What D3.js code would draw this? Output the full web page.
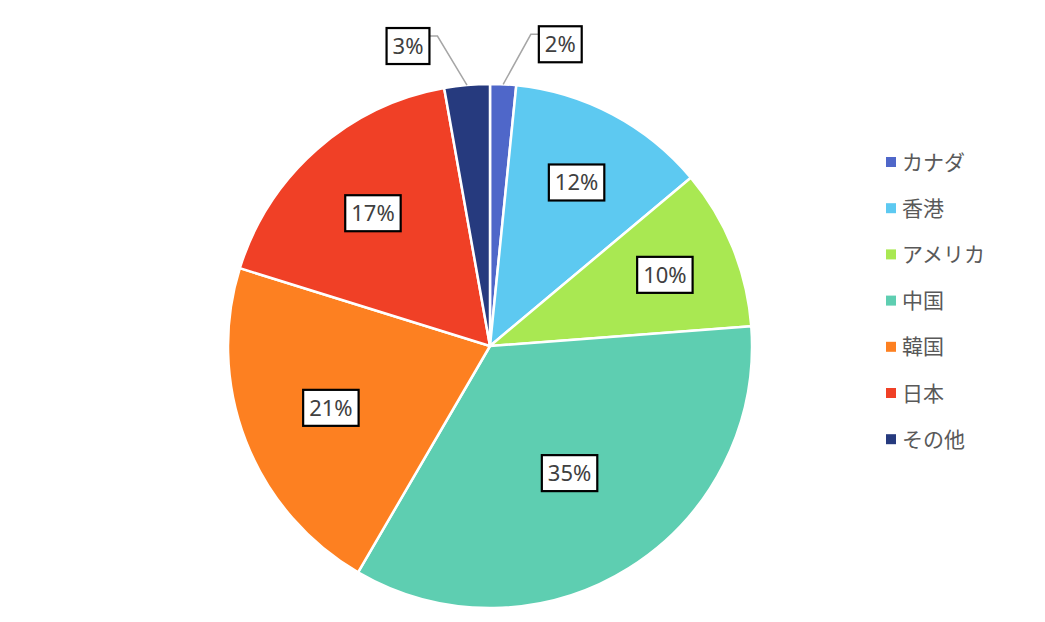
<!DOCTYPE html>
<html><head><meta charset="utf-8">
<script src="https://cdn.jsdelivr.net/npm/d3@7"></script>
<style>body{margin:0;background:#fff}</style>
</head><body>
<svg id="c" width="1045" height="622"></svg>
<script>
const categories = ["カナダ","香港","アメリカ","中国","韓国","日本","その他"];
const values = [1.6, 12.3, 9.9, 34.6, 21.4, 17.4, 2.8];
const colors = ["#4F67C9","#5DC9F1","#A9E852","#5ECEB1","#FD8021","#F04026","#263A7E"];

const svg = d3.select("#c");
const cx = 490, cy = 346, R = 262;
const font = "'Noto Sans CJK JP','Noto Sans',sans-serif";

const data = categories.map((c,i)=>({name:c, value:values[i], color:colors[i]}));
const pie = d3.pie().value(d=>d.value).sort(null);
const arcs = pie(data);
const arc = d3.arc().innerRadius(0).outerRadius(R);
const total = d3.sum(values);

const g = svg.append("g").attr("transform",`translate(${cx},${cy})`);
g.selectAll("path").data(arcs).join("path")
  .attr("d",arc).attr("fill",d=>d.data.color)
  .attr("stroke","#fff").attr("stroke-width",2.5).attr("stroke-linejoin","round");

function pt(angle, r){ return [r*Math.sin(angle), -r*Math.cos(angle)]; }

arcs.forEach(a=>{
  const share = a.data.value/total*100;
  const pct = Math.round(share)+"%";
  const mid = (a.startAngle+a.endAngle)/2;
  const lg = g.append("g");
  const t = lg.append("text").attr("text-anchor","middle").attr("dy","0.35em")
    .attr("font-family","'Noto Sans',sans-serif").attr("font-size",22).attr("fill","#404040").text(pct);
  const bb = t.node().getBBox();
  const bw = bb.width+12, bh = 36;
  lg.insert("rect","text").attr("x",-bw/2).attr("y",-bh/2).attr("width",bw).attr("height",bh)
    .attr("fill","#fff").attr("stroke","#000").attr("stroke-width",2.2);
  let bx, by;
  if (share < 5) {
    const dir = Math.sin(mid) >= 0 ? 1 : -1;
    const s = pt(mid, R);
    const e = pt(mid + dir*0.08, R*1.2);
    const h = [e[0] + dir*8, e[1]];
    g.insert("polyline", "g").attr("points",[s,e,h].map(p=>p.join(",")).join(" "))
      .attr("fill","none").attr("stroke","#A6A6A6").attr("stroke-width",1.5);
    bx = h[0] + dir*bw/2; by = e[1] + 10;
  } else {
    const p = pt(mid, R*(0.78 - 0.006*share));
    bx = p[0]; by = p[1];
  }
  lg.attr("transform",`translate(${bx},${by})`);
});

const leg = svg.append("g").attr("transform","translate(886,162)");
const row = leg.selectAll("g").data(data).join("g").attr("transform",(d,i)=>`translate(0,${i*46.2})`);
row.append("rect").attr("x",0).attr("y",-5).attr("width",10).attr("height",10).attr("fill",d=>d.color);
row.append("text").attr("x",16).attr("dy","0.36em").attr("font-family",font).attr("font-size",21)
  .attr("fill","#595959").text(d=>d.name);
</script>
</body></html>
